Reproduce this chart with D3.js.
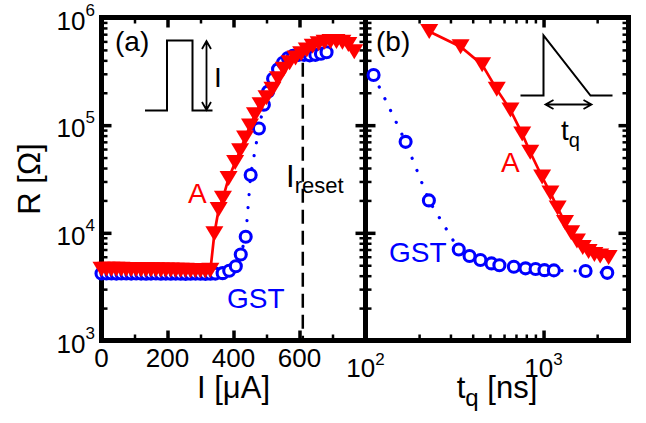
<!DOCTYPE html>
<html>
<head>
<meta charset="utf-8">
<script src="https://cdn.jsdelivr.net/npm/d3@7"></script>
<style>
  body { margin: 0; background: #fff; }
  svg text { font-family: "Liberation Sans", Arial, Helvetica, sans-serif; }
</style>
</head>
<body>
<svg width="646" height="423"></svg>
<script>
// **** Data ****
// panel (a): R vs pulse current I [uA]
var gstCurrent = [0, 15, 30, 45, 60, 75, 90, 105, 120, 135, 150, 165, 180, 195, 210, 225, 240, 255, 270, 285, 300, 315, 330, 345,
                  367, 387, 407, 422, 437, 452, 477, 492, 505, 520, 535, 550, 565, 580, 597, 614, 631, 648, 665, 682];
var gstCurrentR = [4200, 4190, 4200, 4180, 4190, 4200, 4180, 4190, 4180, 4170, 4180, 4190, 4170, 4180, 4170, 4180, 4170, 4160, 4170, 4180, 4170, 4160, 4170, 4180,
                   4220, 4450, 4900, 6300, 9200, 34500, 93000, 155000, 205000, 270000, 330000, 380000, 420000, 440000, 450000, 450000, 445000, 450000, 460000, 475000];

var aCurrent = [0, 15, 30, 45, 60, 75, 90, 105, 120, 135, 150, 165, 180, 195, 210, 225, 240, 255, 270, 285, 300, 315, 330,
                342, 355, 368, 385, 405, 420, 435, 450, 465, 482, 500, 518, 535, 552, 570, 588, 605, 622, 640, 658, 676, 694, 712, 730, 748, 766];
var aCurrentR = [4600, 4600, 4590, 4580, 4580, 4570, 4560, 4560, 4550, 4540, 4540, 4530, 4520, 4520, 4510, 4500, 4500, 4490, 4480, 4470, 4460, 4450, 4500,
                 9800, 16500, 21000, 32000, 45000, 58000, 76000, 98000, 125000, 155000, 180000, 215000, 270000, 330000, 380000, 420000, 460000, 500000, 540000, 570000, 590000, 600000, 600000, 590000, 560000, 480000];

var resetCurrent = 610;

// panel (b): R vs quench time tq [ns]
var gstTq = [111, 168, 227, 334, 384, 442, 510, 565, 681, 792, 902, 1012, 1143, 1722, 2280];
var gstTqR = [292000, 70000, 20000, 7000, 6100, 5600, 5200, 5000, 4840, 4680, 4620, 4500, 4480, 4420, 4250];

var aTq = [228, 342, 452, 546, 652, 759, 842, 982, 1093, 1200, 1320, 1430, 1540, 1660, 1790, 1930, 2080, 2320];
var aTqR = [740000, 535000, 365000, 215000, 138000, 83000, 56000, 33000, 23500, 17000, 12500, 10000, 8400, 7300, 6700, 6300, 6100, 5900];

// tick labels
var yTickValues = [1e3, 1e4, 1e5, 1e6];
var yTickExp = ["3", "4", "5", "6"];
var xTicksA = [0, 200, 400, 600];
var xTicksAMajor = [0, 200, 400, 600, 800];
var xTicksB = [100, 1000];
var xTicksBExp = ["2", "3"];

// **** Layout ****
var svg = d3.select("svg");
var yTop = 17.5, yBottom = 340.5;
var aLeft = 101.5, mid = 365.5, bRight = 628.5;

var yScale = d3.scaleLog().domain([1e3, 1e6]).range([yBottom, yTop]);
var xA = d3.scaleLinear().domain([0, 800]).range([aLeft, mid]);
var xB = d3.scaleLog().domain([100, 3000]).range([mid, bRight]);

var RED = "#ff0000", BLUE = "#0000ff";

var yMinor = yScale.ticks().filter(function(d) { return yTickValues.indexOf(d) < 0; });
var xAMinor = xA.ticks(8).filter(function(d) { return xTicksAMajor.indexOf(d) < 0; });
var xBMinor = xB.ticks().filter(function(d) { return xTicksB.indexOf(d) < 0; });

// inward tick marks, drawn by d3 axes without labels
function ticks(axisFn, scale, values, len, width, tx, ty) {
    svg.append("g")
        .attr("transform", "translate(" + tx + "," + ty + ")")
        .call(axisFn(scale).tickValues(values).tickSize(-len).tickFormat(""))
        .call(function(g) { g.select(".domain").remove(); })
        .selectAll("line").attr("stroke", "#000").attr("stroke-width", width);
}

function panelTicks(xs, xMajor, xMinor, x0, x1) {
    ticks(d3.axisLeft, yScale, yTickValues, 10, 3.5, x0, 0);
    ticks(d3.axisLeft, yScale, yMinor, 6, 2.5, x0, 0);
    ticks(d3.axisRight, yScale, yTickValues, 10, 3.5, x1, 0);
    ticks(d3.axisRight, yScale, yMinor, 6, 2.5, x1, 0);
    ticks(d3.axisBottom, xs, xMajor, 10, 3.5, 0, yBottom);
    ticks(d3.axisBottom, xs, xMinor, 6, 2.5, 0, yBottom);
    ticks(d3.axisTop, xs, xMajor, 10, 3.5, 0, yTop);
    ticks(d3.axisTop, xs, xMinor, 6, 2.5, 0, yTop);
    svg.append("rect")
        .attr("x", x0).attr("y", yTop)
        .attr("width", x1 - x0).attr("height", yBottom - yTop)
        .attr("fill", "none").attr("stroke", "#000").attr("stroke-width", 5);
}

panelTicks(xA, xTicksAMajor, xAMinor, aLeft, mid);
panelTicks(xB, xTicksB, xBMinor, mid, bRight);

// **** tick labels ****
svg.selectAll("text.ylab").data(yTickValues).enter().append("text")
    .attr("class", "ylab")
    .attr("x", 95)
    .attr("y", function(d) { return yScale(d) + 12; })
    .attr("text-anchor", "end")
    .attr("font-size", 26)
    .each(function(d, i) {
        var t = d3.select(this);
        t.append("tspan").text("10");
        t.append("tspan").attr("dy", -14).attr("font-size", 17).text(yTickExp[i]);
    });

svg.selectAll("text.xlabA").data(xTicksA).enter().append("text")
    .attr("class", "xlabA")
    .attr("x", function(d) { return xA(d); })
    .attr("y", 367)
    .attr("text-anchor", "middle")
    .attr("font-size", 26)
    .text(function(d) { return d; });

svg.selectAll("text.xlabB").data(xTicksB).enter().append("text")
    .attr("class", "xlabB")
    .attr("x", function(d) { return xB(d); })
    .attr("y", 377)
    .attr("text-anchor", "middle")
    .attr("font-size", 26)
    .each(function(d, i) {
        var t = d3.select(this);
        t.append("tspan").text("10");
        t.append("tspan").attr("dy", -12).attr("font-size", 17).text(xTicksBExp[i]);
    });

// axis titles
svg.append("text").attr("x", (aLeft + mid) / 2).attr("y", 398)
    .attr("text-anchor", "middle").attr("font-size", 31).text("I [\u03bcA]");

var tqTitle = svg.append("text").attr("x", (mid + bRight) / 2).attr("y", 398)
    .attr("text-anchor", "middle").attr("font-size", 31);
tqTitle.append("tspan").text("t");
tqTitle.append("tspan").attr("dy", 8).attr("font-size", 24).text("q");
tqTitle.append("tspan").attr("dy", -8).text(" [ns]");

svg.append("text").attr("transform", "translate(40," + (yTop + yBottom) / 2 + ") rotate(-90)")
    .attr("text-anchor", "middle").attr("font-size", 31).text("R [\u03a9]");

// **** data marks ****
var triangle = "M-9,-7.5L9,-7.5L0,7.5Z";

function series(xs, xv, yv, color, kind) {
    var pts = xv.map(function(d, i) { return [xs(d), yScale(yv[i])]; });
    var line = d3.line();
    var path = svg.append("path").attr("d", line(pts))
        .attr("fill", "none").attr("stroke", color);
    if (kind === "circle") {
        path.attr("stroke-width", 3.2).attr("stroke-dasharray", "0.1 13").attr("stroke-linecap", "round");
        svg.append("g").selectAll("circle").data(pts).enter().append("circle")
            .attr("cx", function(d) { return d[0]; })
            .attr("cy", function(d) { return d[1]; })
            .attr("r", 5.5)
            .attr("fill", "#fff").attr("stroke", color).attr("stroke-width", 3.1);
    } else {
        path.attr("stroke-width", 2.7);
        svg.append("g").selectAll("path").data(pts).enter().append("path")
            .attr("d", triangle)
            .attr("transform", function(d) { return "translate(" + d[0] + "," + d[1] + ")"; })
            .attr("fill", color);
    }
}

// reset current marker
svg.append("line")
    .attr("x1", xA(resetCurrent)).attr("x2", xA(resetCurrent))
    .attr("y1", yScale(3.8e5)).attr("y2", yBottom)
    .attr("stroke", "#000").attr("stroke-width", 2.5).attr("stroke-dasharray", "14 7");

series(xA, gstCurrent, gstCurrentR, BLUE, "circle");
series(xA, aCurrent, aCurrentR, RED, "triangle");
series(xB, gstTq, gstTqR, BLUE, "circle");
series(xB, aTq, aTqR, RED, "triangle");

// **** annotations ****
function label(x, y, size, color, txt) {
    return svg.append("text").attr("x", x).attr("y", y).attr("font-size", size).attr("fill", color).text(txt);
}
label(115, 51, 28, "#000", "(a)");
label(376, 51, 28, "#000", "(b)");
label(188, 203, 28, RED, "A");
label(227, 308, 28, BLUE, "GST");
label(501, 172, 28, RED, "A");
label(389, 262, 28, BLUE, "GST");

var ireset = label(286, 187, 31, "#000", "I");
ireset.append("tspan").attr("dy", 6).attr("font-size", 22).text("reset");

// pulse inset (a)
var ink = function(sel) { return sel.attr("fill", "none").attr("stroke", "#000").attr("stroke-width", 2); };
ink(svg.append("path").attr("d", "M145,110.5H167V40.5H192.5V110.5H212.5"));
ink(svg.append("path").attr("d", "M206.5,41V110M202,49L206.5,41L211,49M202,102L206.5,110L211,102")).attr("stroke-width", 1.8);
label(214, 87, 28, "#000", "I");

// quench inset (b)
ink(svg.append("path").attr("d", "M520.5,95.5H543.5V35.5L590.5,95.5H612.5"));
ink(svg.append("path").attr("d", "M545.5,104.5H591.5M553.5,100L545.5,104.5L553.5,109M583.5,100L591.5,104.5L583.5,109")).attr("stroke-width", 1.8);
var tq = label(561, 140, 28, "#000", "t");
tq.append("tspan").attr("dy", 7).attr("font-size", 20).text("q");
</script>
</body>
</html>
